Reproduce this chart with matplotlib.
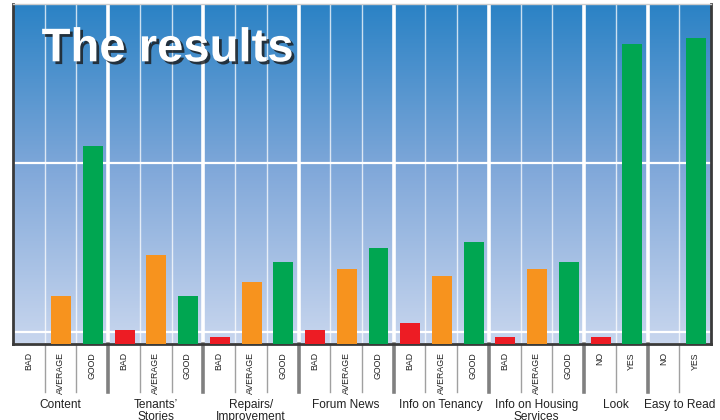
import numpy as np
import matplotlib
matplotlib.use("Agg")
import matplotlib.pyplot as plt
import matplotlib.patheffects as pe
from matplotlib.colors import LinearSegmentedColormap

plt.rcParams['font.family'] = ['Liberation Sans', 'DejaVu Sans']

# survey answers, counted per group
groups = ["Content", "Tenants’\nStories", "Repairs/\nImprovement", "Forum News",
          "Info on Tenancy", "Info on Housing\nServices", "Look", "Easy to Read"]
answers = [
  ["BAD", "AVERAGE", "GOOD"],
  ["BAD", "AVERAGE", "GOOD"],
  ["BAD", "AVERAGE", "GOOD"],
  ["BAD", "AVERAGE", "GOOD"],
  ["BAD", "AVERAGE", "GOOD"],
  ["BAD", "AVERAGE", "GOOD"],
  ["NO", "YES"],
  ["NO", "YES"],
]
counts = [
  [0, 7, 29],
  [2, 13, 7],
  [1, 9, 12],
  [2, 11, 14],
  [3, 10, 15],
  [1, 11, 12],
  [1, 44],
  [0, 45],
]
hlines = [1.7, 26.5]

colors = {
  "BAD": "#ED1C24",
  "NO": "#ED1C24",
  "AVERAGE": "#F7931E",
  "GOOD": "#00A651",
  "YES": "#00A651",
}

fig = plt.figure(figsize = (7.2, 4.2), dpi = 100)
W, H = 720, 420
left, right, top, base = 13, 711, 3.5, 343.5
ax = fig.add_axes([left / W, (H - base) / H, (right - left) / W, (base - top) / H])

nslots = sum(len(a) for a in answers)
ymax = 50
ax.set_xlim(0, nslots)
ax.set_ylim(0, ymax)

# background gradient
cmap = LinearSegmentedColormap.from_list("bg", [
  (0.0, "#C8D6EE"), (0.5, "#82A9DA"), (0.53, "#7CA6D8"), (1.0, "#2A82C5")])
grad = np.linspace(0, 1, 256).reshape(-1, 1)
ax.imshow(grad, cmap = cmap, origin = "lower", aspect = "auto",
          extent = [0, nslots, 0, ymax], zorder = 0)

for y in hlines:
  ax.axhline(y, color = "white", linewidth = 1.6, zorder = 1)

xt = ax.get_xaxis_transform()
slot = 0
for gi, (grp, ans, vals) in enumerate(zip(groups, answers, counts)):
  start = slot
  for a, v in zip(ans, vals):
    ax.bar(slot + 0.52, v, width = 0.63, color = colors[a], zorder = 3)
    ax.text(slot + 0.5, -0.025, a, rotation = 90, ha = "center", va = "top",
            fontsize = 6.3, color = "#222222", transform = xt)
    if slot > start:
      ax.axvline(slot, color = "white", linewidth = 1.0, alpha = 0.75, zorder = 1)
      ax.plot([slot, slot], [0, -0.143], color = "#A0A0A0", linewidth = 1.0,
              transform = xt, clip_on = False)
    slot += 1
  if gi > 0:
    ax.axvline(start, color = "white", linewidth = 2.6, zorder = 1)
    ax.plot([start, start], [0, -0.143], color = "#808080", linewidth = 2.6,
            transform = xt, clip_on = False)
  ax.text((start + slot) / 2, -0.162, grp, ha = "center", va = "top",
          fontsize = 8.6, color = "#222222", linespacing = 1.0, transform = xt)

ax.set_xticks([])
ax.set_yticks([])
for s in ["left", "bottom", "right"]:
  ax.spines[s].set_color("#3A3A3A")
  ax.spines[s].set_linewidth(2)
ax.spines["top"].set_color("#CCCCCC")
ax.spines["top"].set_linewidth(1)

ax.text(0.041, 0.93, "The results", transform = ax.transAxes, ha = "left", va = "top",
        fontsize = 34, fontweight = "bold", color = "white", zorder = 5,
        path_effects = [pe.withSimplePatchShadow(offset = (2, -2), shadow_rgbFace = "#1A1A1A", alpha = 0.8)])

fig.savefig("out.png", dpi = 100)
